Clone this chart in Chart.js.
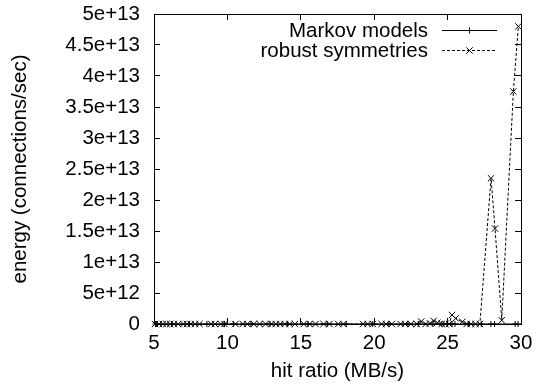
<!DOCTYPE html>
<html><head><meta charset="utf-8">
<script src="https://cdn.jsdelivr.net/npm/chart.js@4/dist/chart.umd.min.js"></script>
<style>html,body{margin:0;padding:0;background:#fff}#wrap{width:546px;height:387px}</style>
</head><body><div id="wrap"><canvas id="c" width="546" height="387"></canvas></div>
<script>
const seriesNames = ['Markov models', 'robust symmetries'];
const xTitle = 'hit ratio (MB/s)';
const yTitle = 'energy (connections/sec)';
const xTicks = [5, 10, 15, 20, 25, 30];
const yTicks = [0, 5e12, 1e13, 1.5e13, 2e13, 2.5e13, 3e13, 3.5e13, 4e13, 4.5e13, 5e13];

const markovX = [5.1, 6.2, 7.4, 8.6, 9.8, 10.4, 11.6, 12.9, 14.1, 15.5, 16.8, 18.1, 19.9, 21.0, 22.3, 23.0, 24.0, 24.6, 25.0, 25.3, 25.5, 26.4, 27.3, 27.95, 28.2, 29.6, 29.8];
const markovY = [0, 0, 0, 0, 0, 0, 0, 0, 0, 0, 0, 0, 0, 0, 0, 0, 0, 0, 0, 0, 0, 0, 0, 0, 0, 0, 0];

const robustX = [5.07, 5.35, 5.6, 5.85, 6.1, 6.35, 6.65, 7.0, 7.25, 7.5, 7.8, 8.1, 8.9, 9.15, 9.55, 9.8, 10.55, 11.05, 11.35, 11.8, 12.2, 12.6, 13.0, 13.3, 13.6, 13.9, 14.25, 14.6, 15.2, 15.6, 16.0, 16.55, 16.95, 17.55, 17.9, 19.25, 19.55, 19.9, 20.5, 20.8, 21.2, 21.8, 22.1, 22.5, 22.9, 23.2, 23.5, 23.8, 24.05, 24.3, 24.6, 24.85, 25.1, 25.3, 25.55, 26.0, 26.3, 26.6, 26.9, 27.2, 27.96, 28.23, 28.69, 29.48, 29.82];
const robustY = [0, 0, 0, 0, 0, 0, 0, 0, 0, 0, 0, 0, 0, 0, 0, 0, 0, 0, 0, 0, 0, 0, 0, 0, 0, 0, 0, 0, 0, 0, 0, 0, 0, 0, 0, 0, 0, 0, 0, 0, 0, 0, 0, 0, 0, 4e11, 0, 1e11, 5e11, 2e11, 0, 0, 0, 1.45e12, 9e11, 3.5e11, 0, 0, 0, 0, 2.35e13, 1.54e13, 6e11, 3.75e13, 4.8e13];

const FONT = {family: '"Liberation Sans", Arial, sans-serif', size: 20.5};

function pts(xs, ys) { return xs.map((x, i) => ({x: x, y: ys[i]})); }

const legendPlugin = {
  id: 'gnukey',
  afterDraw(chart) {
    const ctx = chart.ctx;
    ctx.save();
    ctx.font = FONT.size + 'px ' + FONT.family;
    ctx.fillStyle = '#000';
    ctx.textAlign = 'right';
    ctx.textBaseline = 'middle';
    const rows = [30, 50];
    chart.data.datasets.forEach((ds, i) => {
      const yy = rows[i];
      ctx.fillText(ds.label, 428, yy + 1);
      ctx.save();
      ctx.strokeStyle = '#000';
      ctx.lineWidth = 1;
      ctx.setLineDash(ds.borderDash || []);
      ctx.beginPath();
      ctx.moveTo(442, Math.round(yy) + 0.5);
      ctx.lineTo(497, Math.round(yy) + 0.5);
      ctx.stroke();
      ctx.restore();
      ctx.strokeStyle = '#000';
      Chart.helpers.drawPoint(ctx, {pointStyle: ds.pointStyle, radius: ds.pointRadius, borderWidth: 1}, 469.5, Math.round(yy) + 0.5);
    });
    ctx.restore();
  }
};

const gridOpts = {display: true, drawOnChartArea: false, drawTicks: true, tickLength: -6, color: '#000', lineWidth: 1};
const borderOpts = {display: true, color: '#000', width: 1};

new Chart(document.getElementById('c'), {
  type: 'scatter',
  data: {
    datasets: [
      {label: seriesNames[0], data: pts(markovX, markovY), showLine: true, borderColor: '#000', backgroundColor: '#000',
       borderWidth: 1, pointStyle: 'cross', pointRadius: 3, pointBorderWidth: 1, pointBorderColor: '#000', clip: false, tension: 0},
      {label: seriesNames[1], data: pts(robustX, robustY), showLine: true, borderColor: '#000', backgroundColor: '#000',
       borderWidth: 1, borderDash: [3, 2], pointStyle: 'crossRot', pointRadius: 4.5, pointBorderWidth: 1, pointBorderColor: '#000', clip: false, tension: 0}
    ]
  },
  options: {
    responsive: false,
    animation: false,
    devicePixelRatio: 1,
    layout: {padding: {left: 0, right: 0, top: 14, bottom: 0}},
    plugins: {legend: {display: false}, tooltip: {enabled: false}},
    scales: {
      x: {
        type: 'linear', position: 'bottom', min: 5, max: 30,
        afterBuildTicks: s => { s.ticks = xTicks.map(v => ({value: v})); },
        afterFit: s => { s.height = 63; s.paddingLeft = 0; s.paddingRight = 0; },
        grid: gridOpts,
        border: borderOpts,
        ticks: {color: '#000', font: FONT, padding: 13, maxRotation: 0, autoSkip: false, callback: v => String(v)},
        title: {display: true, text: xTitle, color: '#000', font: FONT, padding: {top: 0, bottom: 3}}
      },
      x2: {
        type: 'linear', axis: 'x', position: 'top', min: 5, max: 30,
        afterBuildTicks: s => { s.ticks = xTicks.map(v => ({value: v})); },
        afterFit: s => { s.height = 0; s.paddingLeft = 0; s.paddingRight = 0; },
        grid: gridOpts,
        border: borderOpts,
        ticks: {display: false}
      },
      y: {
        type: 'linear', position: 'left', min: 0, max: 5e13,
        afterBuildTicks: s => { s.ticks = yTicks.map(v => ({value: v})); },
        afterFit: s => { s.width = 154; s.paddingTop = 0; s.paddingBottom = 0; },
        grid: gridOpts,
        border: borderOpts,
        ticks: {color: '#000', font: FONT, padding: 20, autoSkip: false, callback: v => v === 0 ? '0' : Number(v).toExponential()},
        title: {display: true, text: yTitle, color: '#000', font: FONT, padding: {top: 8, bottom: 0}}
      },
      y2: {
        type: 'linear', axis: 'y', position: 'right', min: 0, max: 5e13,
        afterBuildTicks: s => { s.ticks = yTicks.map(v => ({value: v})); },
        afterFit: s => { s.width = 25; s.paddingTop = 0; s.paddingBottom = 0; },
        grid: gridOpts,
        border: borderOpts,
        ticks: {display: false}
      }
    }
  },
  plugins: [legendPlugin]
});
</script></body></html>
